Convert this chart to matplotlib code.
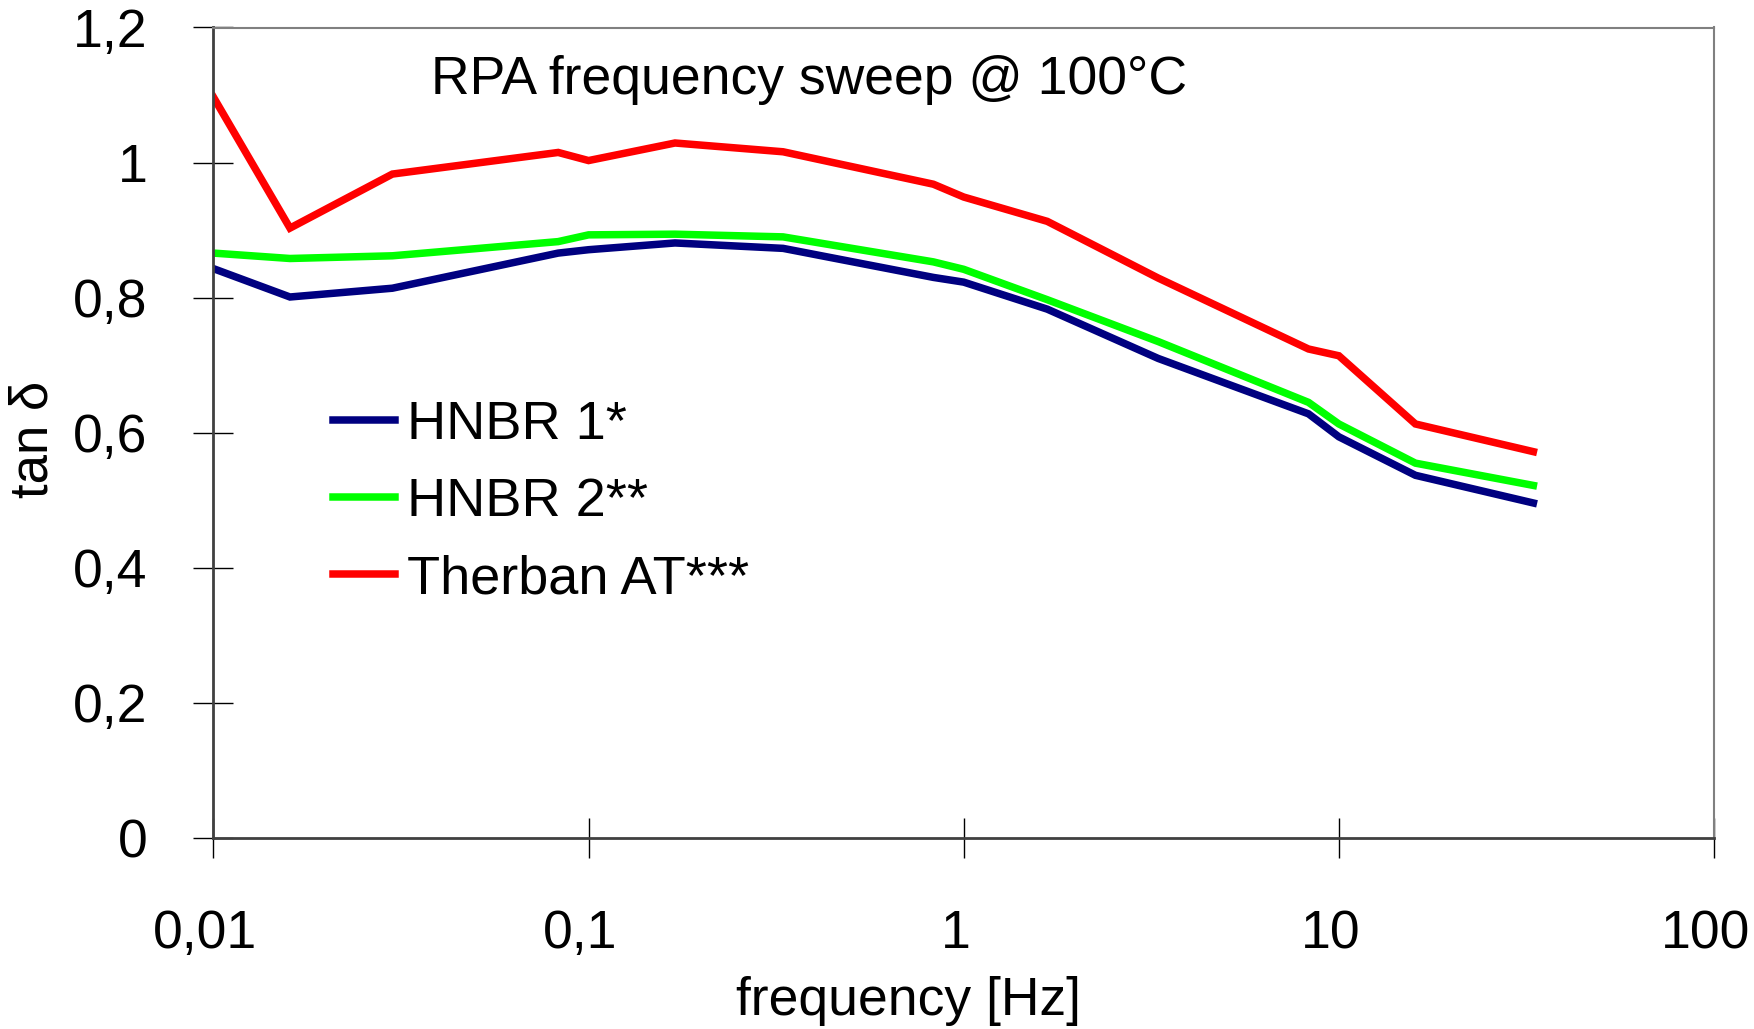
import matplotlib
matplotlib.use("Agg")
import matplotlib.pyplot as plt
import matplotlib.transforms as mtransforms
from matplotlib.ticker import FixedLocator, NullLocator

plt.rcParams['font.family'] = ['Liberation Sans', 'DejaVu Sans']

freq = [0.01, 0.016, 0.03, 0.083, 0.1, 0.17, 0.33, 0.83, 1.0, 1.67, 3.3, 8.3, 10, 16, 33]
hnbr1 = [0.843, 0.801, 0.814, 0.866, 0.871, 0.881, 0.873, 0.830, 0.823, 0.783, 0.710, 0.628, 0.594, 0.537, 0.496]
hnbr2 = [0.866, 0.858, 0.862, 0.883, 0.893, 0.894, 0.890, 0.853, 0.842, 0.797, 0.735, 0.645, 0.613, 0.555, 0.522]
therban = [1.097, 0.903, 0.983, 1.015, 1.003, 1.029, 1.016, 0.968, 0.949, 0.913, 0.829, 0.724, 0.714, 0.613, 0.572]

series_names = ["HNBR 1*", "HNBR 2**", "Therban AT***"]
series_colors = ["#000080", "#00FF00", "#FF0000"]

xticks = [0.01, 0.1, 1, 10, 100]
xticklabels = ["0,01", "0,1", "1", "10", "100"]
yticks = [0, 0.2, 0.4, 0.6, 0.8, 1.0, 1.2]
yticklabels = ["0", "0,2", "0,4", "0,6", "0,8", "1", "1,2"]

W, H = 1754, 1029
fig = plt.figure(figsize=(W / 100, H / 100), dpi=100)
ax = fig.add_axes([213.4 / W, 1 - 838 / H, (1714 - 213.4) / W, (838 - 27.5) / H])

for vals, name, col in zip([hnbr1, hnbr2, therban], series_names, series_colors):
    ax.plot(freq, vals, color=col, lw=5.4, label=name, solid_joinstyle='miter')

ax.set_xscale('log')
ax.set_xlim(0.01, 100)
ax.set_ylim(0, 1.2)
ax.xaxis.set_major_locator(FixedLocator(xticks))
ax.xaxis.set_minor_locator(NullLocator())
ax.set_xticklabels(xticklabels)
ax.set_yticks(yticks)
ax.set_yticklabels(yticklabels)

ax.tick_params(axis='both', direction='inout', length=28.8, width=1.0, color='black',
               labelsize=38.5)
ax.tick_params(axis='y', pad=33)
ax.tick_params(axis='x', pad=37)

shift = mtransforms.ScaledTranslation(-8 / 100, 0, fig.dpi_scale_trans)
for lab in ax.get_xticklabels():
    lab.set_transform(lab.get_transform() + shift)

for s in ['top', 'right']:
    ax.spines[s].set_color('#808080')
    ax.spines[s].set_linewidth(1.5)
for s in ['left', 'bottom']:
    ax.spines[s].set_color('#404040')
    ax.spines[s].set_linewidth(2.0)

fig.text(809 / W, 1 - 80 / H, "RPA frequency sweep @ 100°C", fontsize=38.5,
         ha='center', va='center')
fig.text(908 / W, 1 - 1001 / H, "frequency [Hz]", fontsize=38.5, ha='center', va='center')
fig.text(34 / W, 1 - 439 / H, "tan δ", fontsize=38, ha='center', va='center', rotation=90)

leg = ax.legend(loc='upper left', bbox_to_anchor=(333 / W, 1 - 400 / H),
                bbox_transform=fig.transFigure, frameon=False, fontsize=39,
                handlelength=1.14, handletextpad=0.22, labelspacing=0.5,
                borderpad=0, borderaxespad=0)

fig.savefig("out.png", dpi=100)
